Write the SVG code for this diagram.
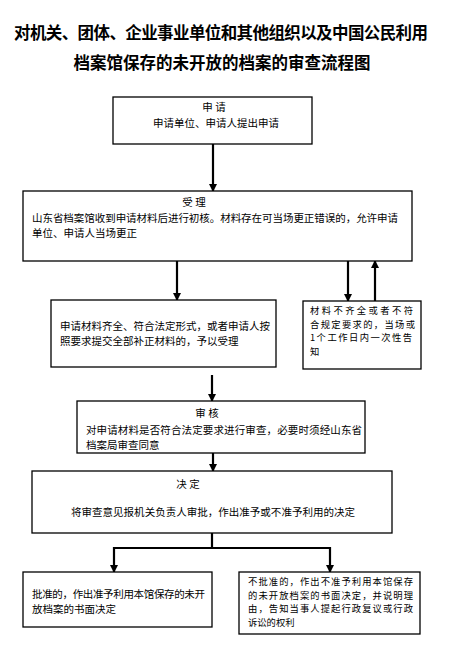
<svg xmlns="http://www.w3.org/2000/svg" width="454" height="652" viewBox="0 0 454 652">
<style>
.title{font-family:"Noto Sans CJK SC","Noto Sans",sans-serif;font-size:16.5px;font-weight:bold;fill:#000;text-anchor:middle}
.t{font-family:"Noto Sans CJK SC","Noto Sans",sans-serif;font-size:10.5px;fill:#000}
.s{font-size:9.3px}
.c{text-anchor:middle}
.box{fill:#fff;stroke:#000;stroke-width:1.3}
.ln{fill:none;stroke:#000;stroke-width:2.2}
</style>
<defs>
<marker id="ah" markerUnits="userSpaceOnUse" markerWidth="8" markerHeight="9" refX="7" refY="4" orient="auto">
<path d="M0,0 L8,4 L0,8 Z" fill="#000"/>
</marker>
</defs>
<rect width="454" height="652" fill="#fff"/>
<g id="title">
<text class="title" x="221" y="39" textLength="414">对机关、团体、企业事业单位和其他组织以及中国公民利用</text>
<text class="title" x="222" y="69">档案馆保存的未开放的档案的审查流程图</text>
</g>
<g id="connectors">
<line class="ln" x1="213" y1="144" x2="213" y2="191" marker-end="url(#ah)"/>
<line class="ln" x1="177" y1="261" x2="177" y2="300" marker-end="url(#ah)"/>
<line class="ln" x1="348" y1="261" x2="348" y2="301" marker-end="url(#ah)"/>
<line class="ln" x1="375" y1="301" x2="375" y2="261" marker-end="url(#ah)"/>
<line class="ln" x1="212" y1="375" x2="212" y2="401" marker-end="url(#ah)"/>
<line class="ln" x1="213" y1="446" x2="213" y2="471" marker-end="url(#ah)"/>
<polyline class="ln" points="212,533 212,548 114,548 114,572" marker-end="url(#ah)"/>
<polyline class="ln" points="212,548 330,548 330,572" marker-end="url(#ah)"/>
</g>
<g id="n1">
<rect class="box" x="113" y="97" width="199" height="47"/>
<text class="t c" x="214" y="111">申 请</text>
<text class="t c" x="216" y="127">申请单位、申请人提出申请</text>
</g>
<g id="n2">
<rect class="box" x="23" y="191" width="389" height="70"/>
<text class="t c" x="194" y="206">受 理</text>
<text class="t" x="32" y="222" textLength="366">山东省档案馆收到申请材料后进行初核。材料存在可当场更正错误的，允许申请</text>
<text class="t" x="32" y="237">单位、申请人当场更正</text>
</g>
<g id="n3">
<rect class="box" x="51" y="300" width="225" height="67"/>
<text class="t" x="60" y="330" textLength="210">申请材料齐全、符合法定形式，或者申请人按</text>
<text class="t" x="60" y="345">照要求提交全部补正材料的，予以受理</text>
</g>
<g id="n4">
<rect class="box" x="303" y="301" width="118" height="68"/>
<text class="t s" x="310" y="314" textLength="103">材料不齐全或者不符</text>
<text class="t s" x="310" y="327.6" textLength="105">合规定要求的，当场或</text>
<text class="t s" x="310" y="341.2" textLength="102">1个工作日内一次性告</text>
<text class="t s" x="310" y="354.8">知</text>
</g>
<g id="n5">
<rect class="box" x="77" y="401" width="288" height="52"/>
<text class="t c" x="207" y="417">审 核</text>
<text class="t" x="86" y="434" textLength="276">对申请材料是否符合法定要求进行审查，必要时须经山东省</text>
<text class="t" x="86" y="449">档案局审查同意</text>
</g>
<g id="n6">
<rect class="box" x="32" y="471" width="360" height="62"/>
<text class="t c" x="188" y="488">决 定</text>
<text class="t" x="71" y="516" textLength="284">将审查意见报机关负责人审批，作出准予或不准予利用的决定</text>
</g>
<g id="n7">
<rect class="box" x="23" y="572" width="189" height="55"/>
<text class="t" x="32" y="598" textLength="173">批准的，作出准予利用本馆保存的未开</text>
<text class="t" x="32" y="613">放档案的书面决定</text>
</g>
<g id="n8">
<rect class="box" x="239" y="572" width="181" height="62"/>
<text class="t s" x="248" y="585" textLength="165">不批准的，作出不准予利用本馆保存</text>
<text class="t s" x="248" y="598.6" textLength="165">的未开放档案的书面决定，并说明理</text>
<text class="t s" x="248" y="612.2" textLength="165">由，告知当事人提起行政复议或行政</text>
<text class="t s" x="248" y="625.8">诉讼的权利</text>
</g>
</svg>
